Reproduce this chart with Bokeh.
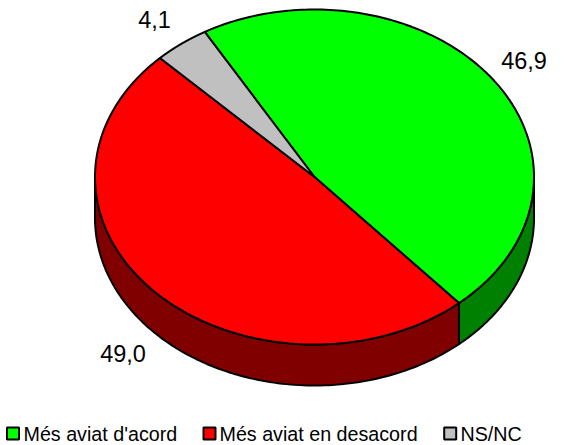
import numpy as np
from bokeh.plotting import figure
from bokeh.models import Range1d
from bokeh.core.properties import value
from bokeh.embed import file_html
from bokeh.resources import INLINE

categories = ["Més aviat d'acord", "Més aviat en desacord", "NS/NC"]
values = [46.9, 49.0, 4.1]
labels = ["46,9", "49,0", "4,1"]
top_colors = ["#00ff00", "#ff0000", "#c0c0c0"]
side_colors = ["#008000", "#800000", "#606060"]

FONT = "Liberation Sans"
CX, CY, RX, RY, DEPTH = 314.0, 176.5, 219.5, 167.5, 41.0
START = -30.0

W, H = 584, 445
p = figure(width=W, height=H, output_backend="svg", toolbar_location=None,
           x_range=Range1d(0, W), y_range=Range1d(H, 0),
           min_border=0)
p.axis.visible = False
p.grid.visible = False
p.outline_line_color = None
p.background_fill_color = "white"


def pt(deg):
    r = np.radians(deg)
    return CX + RX * np.sin(r), CY - RY * np.cos(r)


edges = START + np.concatenate([[0], np.cumsum(values)]) * 3.6

# side wall: the part of each slice on the lower half of the ellipse
for a, b, col in zip(edges[:-1], edges[1:], side_colors):
    lo, hi = max(a, 90.0), min(b, 270.0)
    if hi <= lo:
        continue
    t = np.linspace(lo, hi, 120)
    x, y = pt(t)
    xs = np.concatenate([x, x[::-1]])
    ys = np.concatenate([y, y[::-1] + DEPTH])
    p.patch(xs, ys, fill_color=col, line_color="black", line_width=2)

# top face
for a, b, col in zip(edges[:-1], edges[1:], top_colors):
    t = np.linspace(a, b, 160)
    x, y = pt(t)
    p.patch(np.concatenate([[CX], x]), np.concatenate([[CY], y]),
            fill_color=col, line_color="black", line_width=2)

# data labels
label_x = [523.5, 122.5, 154]
label_y = [60, 352.5, 18.5]
p.text(label_x, label_y, text=labels, text_font=value(FONT), text_font_size="23.5px",
       text_color="black", text_align="center", text_baseline="middle")

# legend
swatch_x = [12.5, 209, 449.7]
text_x = [23, 219, 460]
p.rect(swatch_x, [433] * 3, width=12, height=12, fill_color=top_colors,
       line_color="black", line_width=2)
p.text(text_x, [433] * 3, text=categories, text_font=value(FONT), text_font_size="19.7px",
       text_color="black", text_align="left", text_baseline="middle")

open("out.html", "w").write(file_html(p, INLINE))
